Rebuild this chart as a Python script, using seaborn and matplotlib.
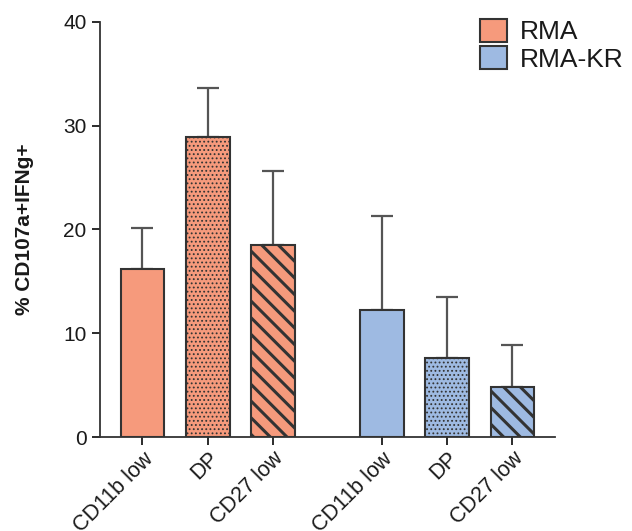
import seaborn as sns
import pandas as pd
import matplotlib.pyplot as plt

# values
groups = ['RMA', 'RMA', 'RMA', 'RMA-KR', 'RMA-KR', 'RMA-KR']
subsets = ['CD11b low', 'DP', 'CD27 low', 'CD11b low', 'DP', 'CD27 low']
means = [16.2, 28.9, 18.5, 12.2, 7.6, 4.8]
errs = [3.9, 4.7, 7.1, 9.1, 5.9, 4.1]
positions = [0, 1, 2, 3.67, 4.67, 5.67]

df = pd.DataFrame({'pos': positions, 'mean': means, 'group': groups, 'subset': subsets})

sns.set_style('ticks')
plt.rcParams['font.family'] = ['Liberation Sans', 'DejaVu Sans']
plt.rcParams['hatch.linewidth'] = 2.2
plt.rcParams['text.color'] = '#1a1a1a'
plt.rcParams['xtick.color'] = '#1a1a1a'
plt.rcParams['ytick.color'] = '#1a1a1a'
plt.rcParams['axes.labelcolor'] = '#1a1a1a'

fig = plt.figure(figsize=(6.32, 5.31), dpi=100)
ax = fig.add_axes([0.158, 0.177, 0.72, 0.782])

sns.barplot(data=df, x='pos', y='mean', hue='group', native_scale=True, dodge=False,
            width=0.67, palette=['#F69A7C', '#9EBAE2'], saturation=1,
            edgecolor='#333333', linewidth=1.5, errorbar=None, ax=ax)

# hatch each bar by its subset
hatches = {'CD11b low': '', 'DP': '....', 'CD27 low': '\\\\'}
for cont in ax.containers:
    for bar in cont:
        cx = bar.get_x() + bar.get_width() / 2
        i = min(range(len(positions)), key=lambda k: abs(positions[k] - cx))
        bar.set_hatch(hatches[subsets[i]])
        if subsets[i] == 'DP' and hasattr(bar, 'set_hatch_linewidth'):
            bar.set_hatch_linewidth(0.8)

ax.errorbar(positions, means, yerr=[[0] * len(errs), errs], fmt='none',
            ecolor='#555555', elinewidth=1.6, capsize=8, capthick=1.6, zorder=0.5)

ax.set_xlim(-0.652, 6.32)
ax.set_ylim(0, 40)
ax.set_yticks([0, 10, 20, 30, 40])
ax.set_xticks(positions)
ax.set_xticklabels(subsets, rotation=45, ha='right', rotation_mode='anchor', fontsize=15.5)
ax.tick_params(axis='y', labelsize=15, length=6, width=1.3)
ax.tick_params(axis='x', length=6, width=1.3, pad=2)
ax.set_xlabel('')
ax.set_ylabel('% CD107a+IFNg+', fontsize=15, fontweight='bold', labelpad=21)
sns.despine(ax=ax)
for sp in ['left', 'bottom']:
    ax.spines[sp].set_linewidth(1.3)
    ax.spines[sp].set_color('#333333')

sns.move_legend(ax, loc='upper left', bbox_to_anchor=(0.743, 0.985),
                bbox_transform=fig.transFigure, frameon=False, title=None,
                fontsize=19, handlelength=1.0, handleheight=1.0,
                handletextpad=0.5, labelspacing=0.05, borderaxespad=0)

fig.savefig('out.png', dpi=100)
